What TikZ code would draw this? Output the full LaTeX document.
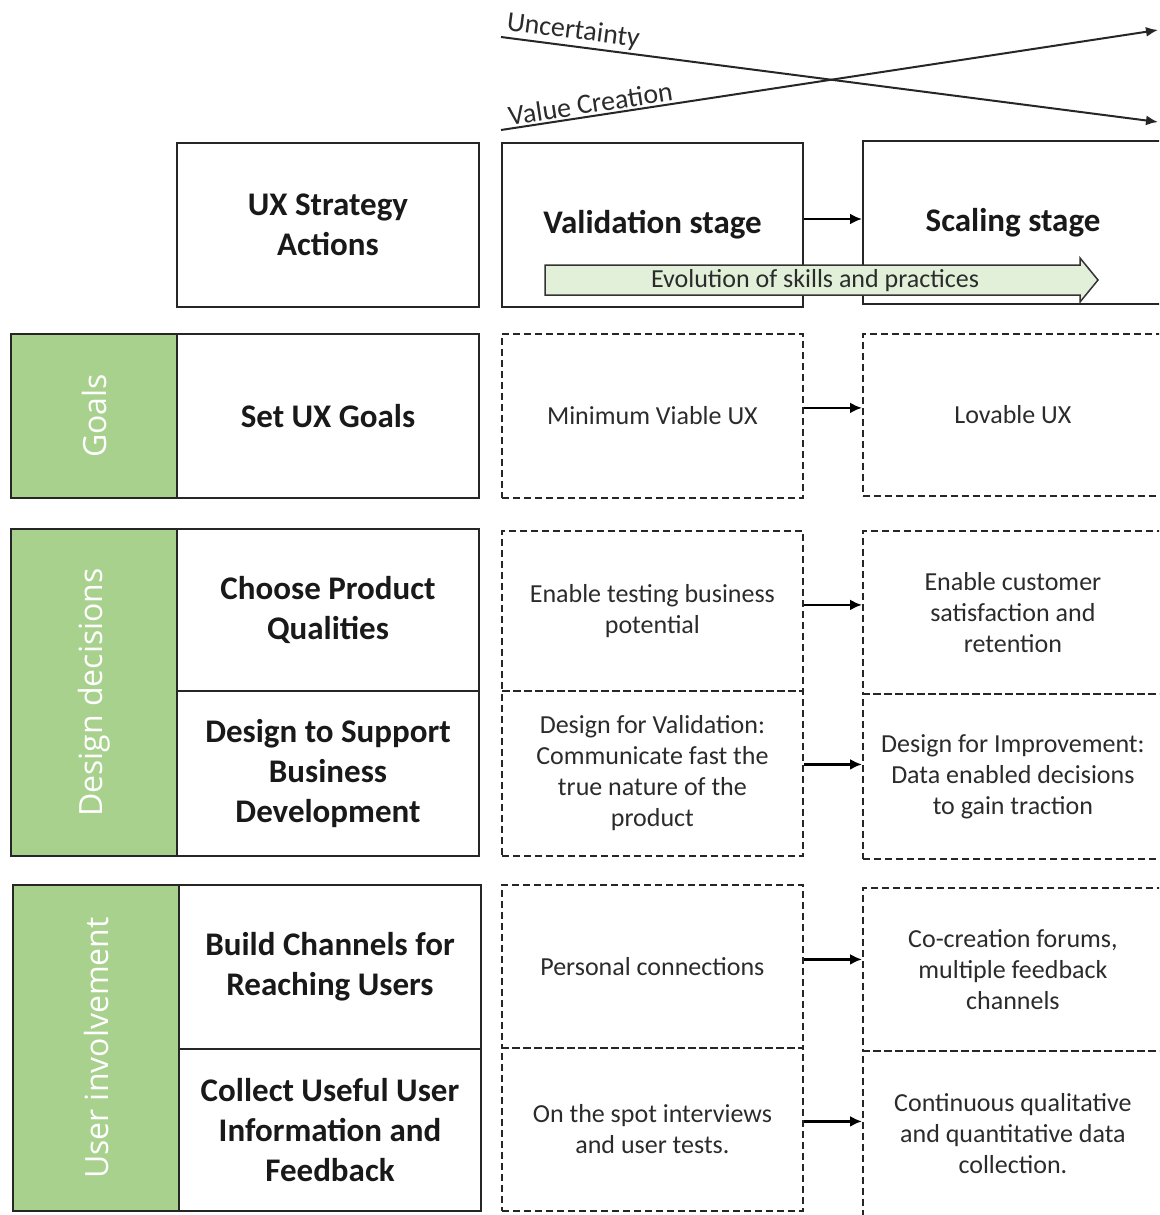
\documentclass[tikz,border=0pt]{standalone}
\usepackage{fontspec}
\setmainfont{Carlito}
\newfontfamily\sidefont{Open Sans}
\usetikzlibrary{arrows.meta}
\definecolor{sidegreen}{HTML}{A9D18E}
\definecolor{evofill}{HTML}{E2F0D9}
\definecolor{txtgray}{HTML}{2B2B2B}
\begin{document}
\begin{tikzpicture}[x=1pt,y=-1pt,
  solidbox/.style={draw=black!85, line width=2pt, anchor=north west, inner sep=0pt,
    align=center, text=black!90, font=\fontsize{33}{40}\selectfont\bfseries},
  sidebox/.style={draw=black!85, fill=sidegreen, line width=2pt, anchor=north west, inner sep=0pt},
  sidelabel/.style={rotate=90, text=white, font=\sidefont\fontsize{32}{36}\selectfont},
  dashbox/.style={draw=black!85, line width=1.8pt, dash pattern=on 7pt off 4pt, anchor=north west,
    inner sep=0pt, align=center, text=txtgray, font=\fontsize{26}{31}\selectfont},
  conn/.style={line width=2.8pt, -{Latex[length=12pt,width=11pt]}},
  trend/.style={line width=2pt, draw=black!85, -{Latex[length=12pt,width=10pt]}},
  trendlabel/.style={text=txtgray, font=\fontsize{28}{32}\selectfont, inner sep=2pt},
  evo/.style={draw=black!80, line width=1.5pt, fill=evofill, line join=miter}]

\useasboundingbox (0,0) rectangle (1159,1215);
\clip (0,0) rectangle (1159,1215);

% trend lines across the stages
\coordinate (u0) at (501,37);
\coordinate (u1) at (1158,122);
\coordinate (c0) at (501,130);
\coordinate (c1) at (1158,30);
\draw[trend] (u0) -- (u1) node[trendlabel, pos=0.107, above, sloped] {Uncertainty};
\draw[trend] (c0) -- (c1) node[trendlabel, pos=0.139, above, sloped] {Value Creation};

% header row
\node[solidbox, minimum width=302pt, minimum height=164pt] (ux) at (176,142) {UX Strategy\\Actions};
\node[solidbox, minimum width=301pt, minimum height=164pt] (v0) at (501,142) {Validation stage};
\node[solidbox, minimum width=300pt, minimum height=163pt] (s0) at (862,140) {Scaling stage};

% evolution arrow
\draw[evo] (545,265) -- (1080,265) -- (1080,258) -- (1098,280) -- (1080,302) -- (1080,295) -- (545,295) -- cycle;
\node[text=txtgray, font=\fontsize{26}{30}\selectfont] (evolabel) at (815,281) {Evolution of skills and practices};

% goals row
\node[sidebox, minimum width=166pt, minimum height=164pt] (g1) at (10,333) {};
\node[sidelabel] at (g1.center) {Goals};
\node[solidbox, minimum width=302pt, minimum height=164pt] (a1) at (176,333) {Set UX Goals};
\node[dashbox, minimum width=301pt, minimum height=164pt] (v1) at (501,333) {Minimum Viable UX};
\node[dashbox, minimum width=300pt, minimum height=162pt] (s1) at (862,333) {Lovable UX};

% design decisions rows
\node[sidebox, minimum width=166pt, minimum height=327pt] (g2) at (10,528) {};
\node[sidelabel] at (g2.center) {Design decisions};
\node[solidbox, minimum width=302pt, minimum height=162pt] (a2) at (176,528) {Choose Product\\Qualities};
\node[solidbox, minimum width=302pt, minimum height=165pt] (a3) at (176,690) {Design to Support\\Business\\Development};
\node[dashbox, minimum width=301pt, minimum height=160pt] (v2) at (501,530) {Enable testing business\\potential};
\node[dashbox, minimum width=301pt, minimum height=165pt] (v3) at (501,690) {Design for Validation:\\Communicate fast the\\true nature of the\\product};
\node[dashbox, minimum width=300pt, minimum height=163pt] (s2) at (862,530) {Enable customer\\satisfaction and\\retention};
\node[dashbox, minimum width=300pt, minimum height=165pt] (s3) at (862,693) {Design for Improvement:\\Data enabled decisions\\to gain traction};

% user involvement rows
\node[sidebox, minimum width=166pt, minimum height=326pt] (g3) at (12,884) {};
\node[sidelabel] at (g3.center) {User involvement};
\node[solidbox, minimum width=302pt, minimum height=164pt] (a4) at (178,884) {Build Channels for\\Reaching Users};
\node[solidbox, minimum width=302pt, minimum height=162pt] (a5) at (178,1048) {Collect Useful User\\Information and\\Feedback};
\node[dashbox, minimum width=301pt, minimum height=163pt] (v4) at (501,884) {Personal connections};
\node[dashbox, minimum width=301pt, minimum height=163pt] (v5) at (501,1047) {On the spot interviews\\and user tests.};
\node[dashbox, minimum width=300pt, minimum height=163pt] (s4) at (862,887) {Co-creation forums,\\multiple feedback\\channels};
\node[dashbox, minimum width=300pt, minimum height=165pt] (s5) at (862,1050) {Continuous qualitative\\and quantitative data\\collection.};

% stage transitions
\foreach \v/\s/\dy in {v0/s0/6, v1/s1/8, v2/s2/6, v3/s3/9, v4/s4/7, v5/s5/8}{
  \draw[conn] ([yshift=\dy pt]\v.east) -- ([yshift=\dy pt]\v.east -| \s.west);
}
\end{tikzpicture}
\end{document}
